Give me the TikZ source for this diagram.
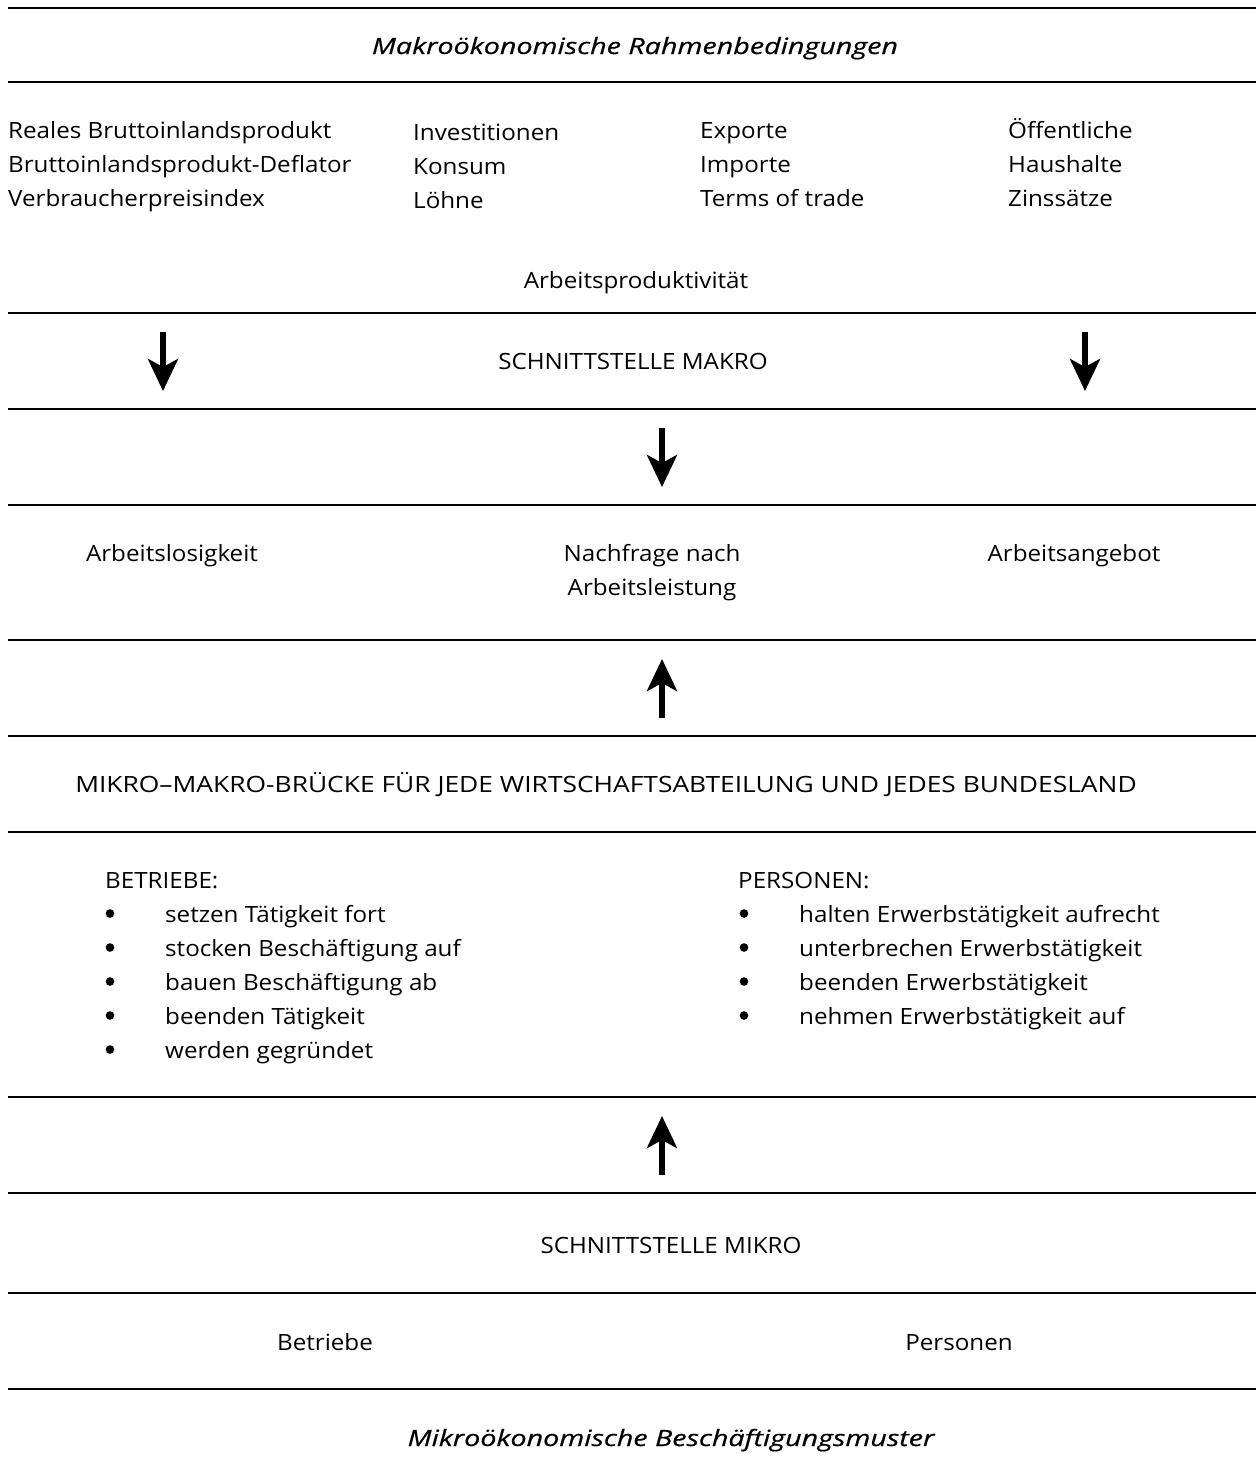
\documentclass[tikz,border=0pt]{standalone}
\usepackage{fontspec}
\setmainfont{Open Sans}[FakeStretch=1.08]
\newfontfamily\ttlfont{Open Sans}[FakeStretch=1.28, FakeBold=0.6]
\usetikzlibrary{arrows.meta}
\begin{document}
\begin{tikzpicture}[x=1pt,y=-1pt,
  rule/.style={line width=2.2pt},
  txt/.style={inner sep=0pt, font=\fontsize{22.4}{34}\selectfont, anchor=base west},
  ctxt/.style={inner sep=0pt, font=\fontsize{22.4}{34}\selectfont, anchor=base},
  ttl/.style={inner sep=0pt, font=\ttlfont\fontsize{22.4}{30}\selectfont\itshape, anchor=base},
  bul/.style={fill=black},
  bigarrow/.style={line width=5.5pt, -{Stealth[length=32pt,width=30pt,inset=8pt]}}
]
\useasboundingbox (0,0) rectangle (1256,1481);
% rules
\foreach \y/\n in {8/r1,82/r2,313/r3,409/r4,505/r5,640/r6,736/r7,832/r8,1097/r9,1193/r10,1293/r11,1389/r12}
  \draw[rule] (8,\y) coordinate (\n a) -- (1256,\y) coordinate (\n b);
% title
\node[ttl] (title) at (635,54) {Makroökonomische Rahmenbedingungen};
% columns
\node[txt] (c1a) at (8,138) {Reales Bruttoinlandsprodukt};
\node[txt] (c1b) at (8,172) {Bruttoinlandsprodukt-Deflator};
\node[txt] (c1c) at (8,206) {Verbraucherpreisindex};
\node[txt] (c2a) at (413,140) {Investitionen};
\node[txt] (c2b) at (413,174) {Konsum};
\node[txt] (c2c) at (413,208) {Löhne};
\node[txt] (c3a) at (700,138) {Exporte};
\node[txt] (c3b) at (700,172) {Importe};
\node[txt] (c3c) at (700,206) {Terms of trade};
\node[txt] (c4a) at (1008,138) {Öffentliche};
\node[txt] (c4b) at (1008,172) {Haushalte};
\node[txt] (c4c) at (1008,206) {Zinssätze};
\node[ctxt] (prod) at (636,288) {Arbeitsproduktivität};
% schnittstelle makro
\node[ctxt] (smakro) at (633,369) {SCHNITTSTELLE MAKRO};
\coordinate (la1) at (163,332); \coordinate (la2) at (163,391);
\coordinate (ra1) at (1085,332); \coordinate (ra2) at (1085,391);
\draw[bigarrow] (la1) -- (la2);
\draw[bigarrow] (ra1) -- (ra2);
\coordinate (ma1) at (662,428); \coordinate (ma2) at (662,487);
\draw[bigarrow] (ma1) -- (ma2);
% labour market
\node[ctxt] (alos) at (172,561) {Arbeitslosigkeit};
\node[ctxt] (nach1) at (652,561) {Nachfrage nach};
\node[ctxt] (nach2) at (652,595) {Arbeitsleistung};
\node[ctxt] (aang) at (1074,561) {Arbeitsangebot};
\coordinate (ua1) at (662,718); \coordinate (ua2) at (662,659);
\draw[bigarrow] (ua1) -- (ua2);
% bridge
\node[ctxt] (bridge) at (606,792) {\scalebox{1.09}[1]{MIKRO–MAKRO-BRÜCKE FÜR JEDE WIRTSCHAFTSABTEILUNG UND JEDES BUNDESLAND}};
% lists
\node[txt] (betr) at (105,888) {BETRIEBE:};
\foreach \y/\t/\n in {922/setzen Tätigkeit fort/b1, 956/stocken Beschäftigung auf/b2, 990/bauen Beschäftigung ab/b3, 1024/beenden Tätigkeit/b4, 1058/werden gegründet/b5}{
  \fill[bul] (110,\y-8.5) circle (4.3pt);
  \node[txt] (\n) at (165,\y) {\t};
}
\node[txt] (pers) at (738,888) {PERSONEN:};
\foreach \y/\t/\n in {922/halten Erwerbstätigkeit aufrecht/p1, 956/unterbrechen Erwerbstätigkeit/p2, 990/beenden Erwerbstätigkeit/p3, 1024/nehmen Erwerbstätigkeit auf/p4}{
  \fill[bul] (744,\y-8.5) circle (4.3pt);
  \node[txt] (\n) at (799,\y) {\t};
}
\coordinate (ub1) at (662,1175); \coordinate (ub2) at (662,1116);
\draw[bigarrow] (ub1) -- (ub2);
% micro
\node[ctxt] (smikro) at (671,1253) {SCHNITTSTELLE MIKRO};
\node[ctxt] (betriebe) at (325,1350) {Betriebe};
\node[ctxt] (personen) at (959,1350) {Personen};
\node[ttl] (title2) at (671,1446) {Mikroökonomische Beschäftigungsmuster};
\end{tikzpicture}
\end{document}
